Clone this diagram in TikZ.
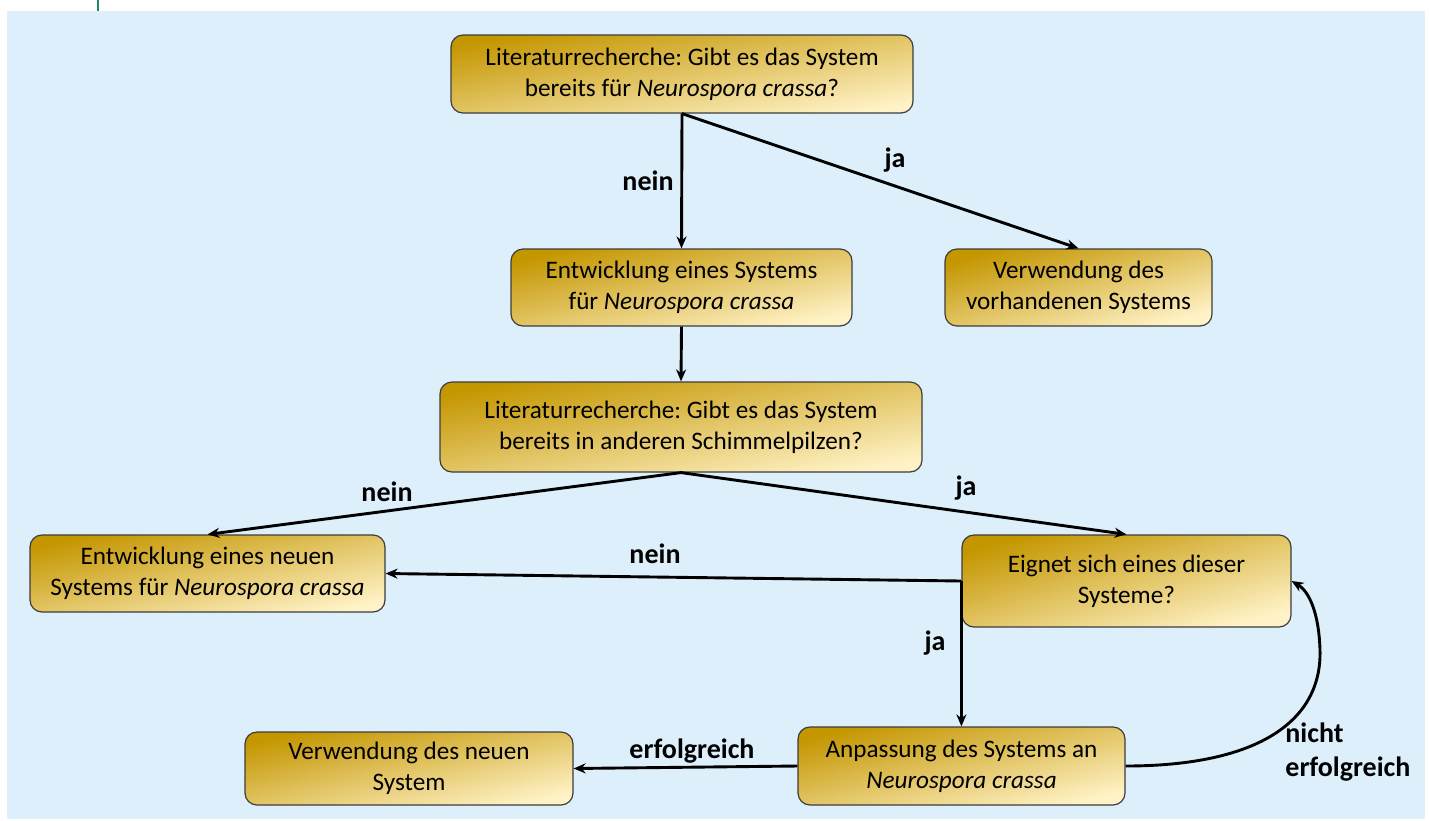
\documentclass[tikz,border=0pt]{standalone}
\usepackage{fontspec}
\setmainfont{Carlito}
\usetikzlibrary{arrows.meta}
\frenchspacing

\definecolor{skyback}{RGB}{221,239,251}
\definecolor{golddark}{RGB}{196,150,0}
\definecolor{goldmid}{RGB}{246,207,86}
\definecolor{goldlight}{RGB}{255,242,198}
\definecolor{edgegray}{RGB}{60,60,60}
\definecolor{tabgreen}{RGB}{30,138,106}

\begin{document}
\begin{tikzpicture}[x=0.5pt, y=-0.5pt,
    box/.style={draw=edgegray, line width=0.6pt, rounded corners=6pt,
      shading=axis, top color=golddark, middle color=goldmid, bottom color=goldlight,
      shading angle=#1, align=center, inner sep=0pt,
      font=\fontsize{12.6}{15.5}\selectfont},
    arr/.style={-{Stealth[length=6pt,width=5pt]}, line width=1.45pt},
    lbl/.style={font=\fontsize{14}{17}\selectfont\bfseries, inner sep=1pt}]
    % Background
    \useasboundingbox (0,0) rectangle (1429,820);
    \fill[skyback] (7,11) rectangle (1425,819);
    \draw[tabgreen, line width=1pt] (98,0) -- (98,11);

    % Boxes
    \node[box=9.6, minimum width=231pt, minimum height=39pt] (lit1) at (682,74)
      {Literaturrecherche: Gibt es das System\\bereits für \textit{Neurospora crassa}?};
    \node[box=12.7, minimum width=170.5pt, minimum height=38.5pt] (dev1) at (681.5,287.5)
      {Entwicklung eines Systems\\für \textit{Neurospora crassa}};
    \node[box=16, minimum width=133.5pt, minimum height=38.5pt] (use1) at (1078.5,287.5)
      {Verwendung des\\vorhandenen Systems};
    \node[box=10.6, minimum width=241pt, minimum height=45pt] (lit2) at (681,427)
      {Literaturrecherche: Gibt es das System\\bereits in anderen Schimmelpilzen?};
    \node[box=12.2, minimum width=177.5pt, minimum height=38.5pt] (dev2) at (207.5,573.5)
      {Entwicklung eines neuen\\Systems für \textit{Neurospora crassa}};
    \node[box=15.6, minimum width=164.5pt, minimum height=46pt] (fit) at (1126.5,581)
      {Eignet sich eines dieser\\Systeme?};
    \node[box=13.4, minimum width=163.5pt, minimum height=39pt] (adapt) at (961.5,766)
      {Anpassung des Systems an\\\textit{Neurospora crassa}};
    \node[box=12.5, minimum width=164pt, minimum height=36.5pt] (use2) at (409,768.5)
      {Verwendung des neuen\\System};

    % Arrows
    \draw[arr] (lit1.south) -- (dev1.north);
    \draw[arr] (lit1.south) -- (use1.north);
    \draw[arr] (dev1.south) -- (lit2.north);
    \draw[arr] (lit2.south) -- (dev2.north);
    \draw[arr] (lit2.south) -- (fit.north);
    \draw[arr] (fit.west) -- (dev2.east);
    \draw[arr] (fit.west) -- (fit.west |- adapt.north);
    \draw[arr] (adapt.west) -- (use2.east);
    \draw[arr] (adapt.east) .. controls (1260,766) and (1322,720) .. (1320,650)
      .. controls (1319,615) and (1310,592) .. (fit.east);

    % Labels
    \node[lbl] (l1) at (648,181) {nein};
    \node[lbl] (l2) at (895,160) {ja};
    \node[lbl] (l3) at (387,492) {nein};
    \node[lbl] (l4) at (966,488) {ja};
    \node[lbl] (l5) at (655,554) {nein};
    \node[lbl] (l6) at (935,643) {ja};
    \node[lbl] (l7) at (692,751) {erfolgreich};
    \node[lbl, align=left, anchor=west] (l8) at (1283,752) {nicht\\erfolgreich};
\end{tikzpicture}
\end{document}
